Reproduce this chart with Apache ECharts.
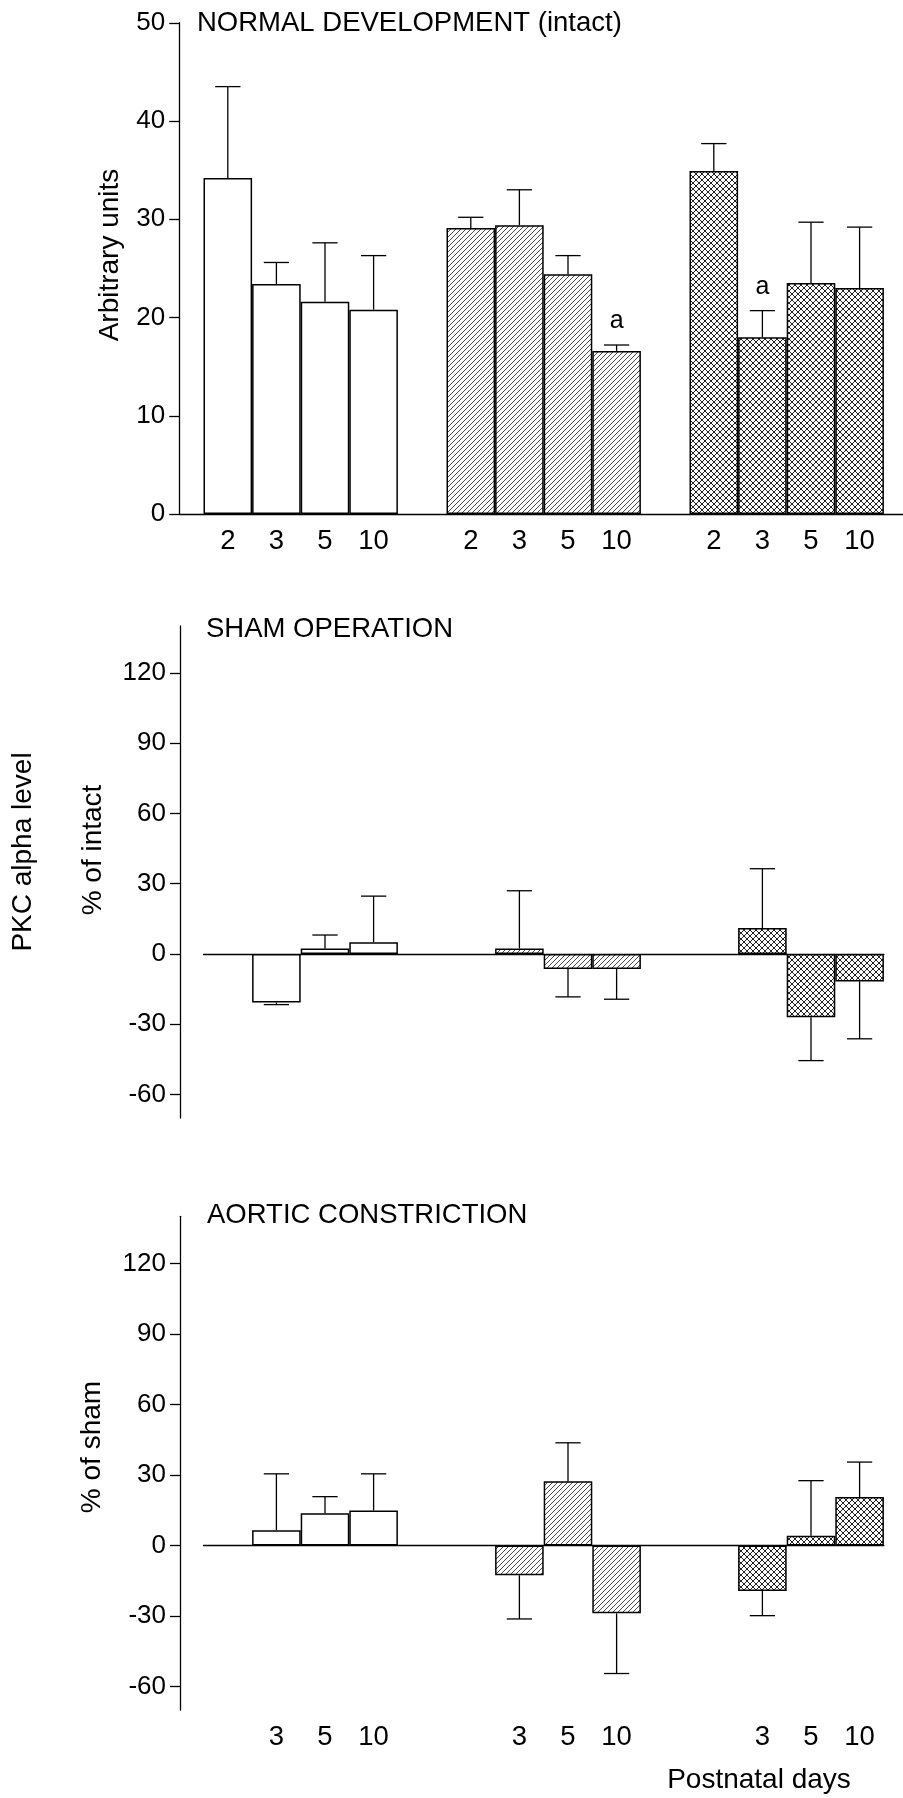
<!DOCTYPE html>
<html>
<head>
<meta charset="utf-8">
<script src="https://cdn.jsdelivr.net/npm/echarts@6/dist/echarts.min.js"></script>
<style>
html,body{margin:0;padding:0;background:#fff;}
#chart{width:903px;height:1798px;}
</style>
</head>
<body>
<div id="chart"></div>
<script>
// ---------------- data ----------------
const categories = ['2','3','5','10','','2','3','5','10','','2','3','5','10'];
const intactMean = [34.2, 23.4, 21.6, 20.8, null, 29.1, 29.4, 24.4, 16.6, null, 34.9, 18.0, 23.5, 23.0];
const intactSem  = [ 9.3,  2.2,  6.0,  5.5, null,  1.1,  3.6,  1.9,  0.6, null,  2.8,  2.7,  6.2,  6.2];
const intactSig  = ['', '', '', '', '', '', '', '', 'a', '', '', 'a', '', ''];
const shamPct    = [null, -20.7, 2.4, 5.0, null, null, 2.4, -6.4, -6.4, null, null, 11.1, -27.0, -11.7];
const shamSem    = [null,   0.9, 5.7, 19.7, null, null, 24.6, 11.9, 12.9, null, null, 25.3, 18.5, 24.5];
const aorticPct  = [null, 6.5, 13.7, 14.9, null, null, -12.6, 27.3, -28.8, null, null, -19.3, 4.2, 20.6];
const aorticSem  = [null, 24.0, 7.1, 15.6, null, null, 18.6, 16.4, 25.6, null, null, 10.5, 23.4, 14.9];
const yTicksIntact = [0, 10, 20, 30, 40, 50];
const yTicksPct = [-60, -30, 0, 30, 60, 90, 120];
const panelTitles = ['NORMAL DEVELOPMENT (intact)', 'SHAM OPERATION', 'AORTIC CONSTRICTION'];
const axisTitles = ['Arbitrary units', '% of intact', '% of sham'];
const sharedTitle = 'PKC alpha level';
const xTitle = 'Postnatal days';

// ---------------- layout / style ----------------
const FONT = "'Liberation Sans', Arial, Helvetica, sans-serif";
const INK = '#000';
const slot = 48.6;      // px per category slot
const x0 = 203.5;       // left edge of first slot
const W = 903, H = 1798;

function makeHatch() {
  const s = 5, c = document.createElement('canvas');
  c.width = s; c.height = s;
  const g = c.getContext('2d');
  g.fillStyle = '#fff'; g.fillRect(0, 0, s, s);
  g.strokeStyle = '#333'; g.lineWidth = 0.9;
  g.beginPath();
  g.moveTo(-1, s + 1); g.lineTo(s + 1, -1);
  g.moveTo(-1, 1); g.lineTo(1, -1);
  g.moveTo(s - 1, s + 1); g.lineTo(s + 1, s - 1);
  g.stroke();
  return c;
}
function makeCross() {
  const s = 6, c = document.createElement('canvas');
  c.width = s; c.height = s;
  const g = c.getContext('2d');
  g.fillStyle = '#fff'; g.fillRect(0, 0, s, s);
  g.strokeStyle = '#222'; g.lineWidth = 1;
  g.beginPath();
  g.moveTo(-1, s + 1); g.lineTo(s + 1, -1);
  g.moveTo(-1, 1); g.lineTo(1, -1);
  g.moveTo(s - 1, s + 1); g.lineTo(s + 1, s - 1);
  g.moveTo(-1, -1); g.lineTo(s + 1, s + 1);
  g.moveTo(-1, s - 1); g.lineTo(1, s + 1);
  g.moveTo(s - 1, -1); g.lineTo(s + 1, 1);
  g.stroke();
  return c;
}
const fills = ['#fff', {image: makeHatch(), repeat: 'repeat'}, {image: makeCross(), repeat: 'repeat'}];

function groupOf(i) {
  let g = 0;
  for (let k = 0; k < i; k++) if (categories[k] === '') g++;
  return g;
}

function barData(vals) {
  const out = [];
  vals.forEach((v, i) => {
    if (v === null || categories[i] === '') return;
    out.push({value: [i, v], itemStyle: {color: fills[groupOf(i)]}});
  });
  return out;
}
function errData(vals, sem) {
  const out = [];
  vals.forEach((v, i) => {
    if (v === null || categories[i] === '') return;
    out.push({value: [i, v, sem[i]]});
  });
  return out;
}
function labelIdx(vals) {
  const out = [];
  vals.forEach((v, i) => { if (v !== null && categories[i] !== '') out.push(i); });
  return out;
}

const errSig = {};

function errRender(params, api) {
  const x = api.value(0), m = api.value(1), e = api.value(2);
  const dir = m < 0 ? -1 : 1;
  const p0 = api.coord([x, m]);
  const p1 = api.coord([x, m + dir * e]);
  const half = slot * 0.26;
  const st = {stroke: INK, lineWidth: 1.3};
  const children = [
    {type: 'line', shape: {x1: p0[0], y1: p0[1], x2: p1[0], y2: p1[1]}, style: st},
    {type: 'line', shape: {x1: p1[0] - half, y1: p1[1], x2: p1[0] + half, y2: p1[1]}, style: st}
  ];
  const sigArr = errSig[params.seriesIndex];
  const sig = sigArr ? sigArr[params.dataIndex] : '';
  if (sig) {
    children.push({type: 'text', x: p1[0], y: p1[1] - 24,
      style: {text: sig, fill: INK, font: '25px ' + FONT, textAlign: 'center', textVerticalAlign: 'middle'}});
  }
  return {type: 'group', children: children};
}

const grids = [
  {left: x0 - slot * 0.5, width: slot * 15, top: 22.75, height: 514 - 22.75},
  {left: x0, width: slot * 14, top: 626, height: 1118 - 626},
  {left: x0, width: slot * 14, top: 1216.3, height: 1710.2 - 1216.3}
].map(g => Object.assign({outerBoundsMode: 'none', containLabel: false}, g));

const axisLineStyle = {color: INK, width: 1.3};
const tickLabel = {color: INK, fontFamily: FONT, fontSize: 26};
const xLabel = {color: INK, fontFamily: FONT, fontSize: 27.5, margin: 13};

const xAxes = [
  {gridIndex: 0, type: 'value', min: -1, max: 14,
    axisLine: {show: true, onZero: true, lineStyle: axisLineStyle},
    axisTick: {show: false}, splitLine: {show: false},
    axisLabel: Object.assign({customValues: labelIdx(intactMean), formatter: v => categories[v]}, xLabel)},
  {gridIndex: 1, type: 'value', min: -0.5, max: 13.5,
    axisLine: {show: true, onZero: true, lineStyle: axisLineStyle},
    axisTick: {show: false}, splitLine: {show: false}, axisLabel: {show: false}},
  {gridIndex: 2, type: 'value', min: -0.5, max: 13.5,
    axisLine: {show: true, onZero: true, lineStyle: axisLineStyle},
    axisTick: {show: false}, splitLine: {show: false}, axisLabel: {show: false}},
  {gridIndex: 2, type: 'value', min: -0.5, max: 13.5, position: 'bottom',
    axisLine: {show: false, onZero: false}, axisTick: {show: false}, splitLine: {show: false},
    axisLabel: Object.assign({customValues: labelIdx(aorticPct), formatter: v => categories[v]}, xLabel)}
];

function yAxisDef(gi, min, max, ticks, offset) {
  return {gridIndex: gi, type: 'value', min: min, max: max, offset: offset,
    axisLine: {show: true, onZero: false, lineStyle: axisLineStyle},
    axisTick: {show: true, length: 10, customValues: ticks, lineStyle: {color: INK, width: 1.3}},
    splitLine: {show: false},
    axisLabel: Object.assign({customValues: ticks, margin: 14}, tickLabel)};
}
const yAxes = [
  yAxisDef(0, 0, 50, yTicksIntact, 0),
  yAxisDef(1, -70, 140, yTicksPct, x0 - 180),
  yAxisDef(2, -70, 140, yTicksPct, x0 - 180)
];

const barStyleBase = {borderColor: INK, borderWidth: 1.5};
function barSeries(xi, yi, vals) {
  return {type: 'bar', xAxisIndex: xi, yAxisIndex: yi, barWidth: slot, data: barData(vals),
    itemStyle: barStyleBase, silent: true, animation: false};
}
function errSeries(xi, yi, vals, sem) {
  return {type: 'custom', xAxisIndex: xi, yAxisIndex: yi, renderItem: errRender,
    data: errData(vals, sem), z: 5, silent: true, animation: false, clip: false};
}
const series = [
  barSeries(0, 0, intactMean), errSeries(0, 0, intactMean, intactSem),
  barSeries(1, 1, shamPct), errSeries(1, 1, shamPct, shamSem),
  barSeries(2, 2, aorticPct), errSeries(2, 2, aorticPct, aorticSem)
];
// significance letters for the intact panel error series (series index 1)
errSig[1] = errData(intactMean, intactSem).map(d => intactSig[d.value[0]]);

const titleStyle = {color: INK, fontFamily: FONT, fontSize: 27.5, fontWeight: 'normal'};
const titles = [
  {text: panelTitles[0], left: 197, top: 9, padding: 0, textStyle: titleStyle},
  {text: panelTitles[1], left: 206, top: 615, padding: 0, textStyle: titleStyle},
  {text: panelTitles[2], left: 207, top: 1201, padding: 0, textStyle: titleStyle}
];

function vText(text, x, y, size) {
  return {type: 'text', x: x, y: y, rotation: Math.PI / 2,
    style: {text: text, fill: INK, font: size + 'px ' + FONT, textAlign: 'center', textVerticalAlign: 'middle'}};
}
const graphics = [
  vText(axisTitles[0], 110, 255, 28),
  vText(axisTitles[1], 93, 850, 28),
  vText(axisTitles[2], 92, 1447, 28),
  vText(sharedTitle, 23, 852, 28),
  {type: 'text', x: 759, y: 1780,
    style: {text: xTitle, fill: INK, font: '28px ' + FONT, textAlign: 'center', textVerticalAlign: 'middle'}}
];

const chart = echarts.init(document.getElementById('chart'), null, {renderer: 'canvas', width: W, height: H});
chart.setOption({
  animation: false,
  backgroundColor: '#fff',
  title: titles,
  grid: grids,
  xAxis: xAxes,
  yAxis: yAxes,
  series: series,
  graphic: graphics
});
</script>
</body>
</html>
